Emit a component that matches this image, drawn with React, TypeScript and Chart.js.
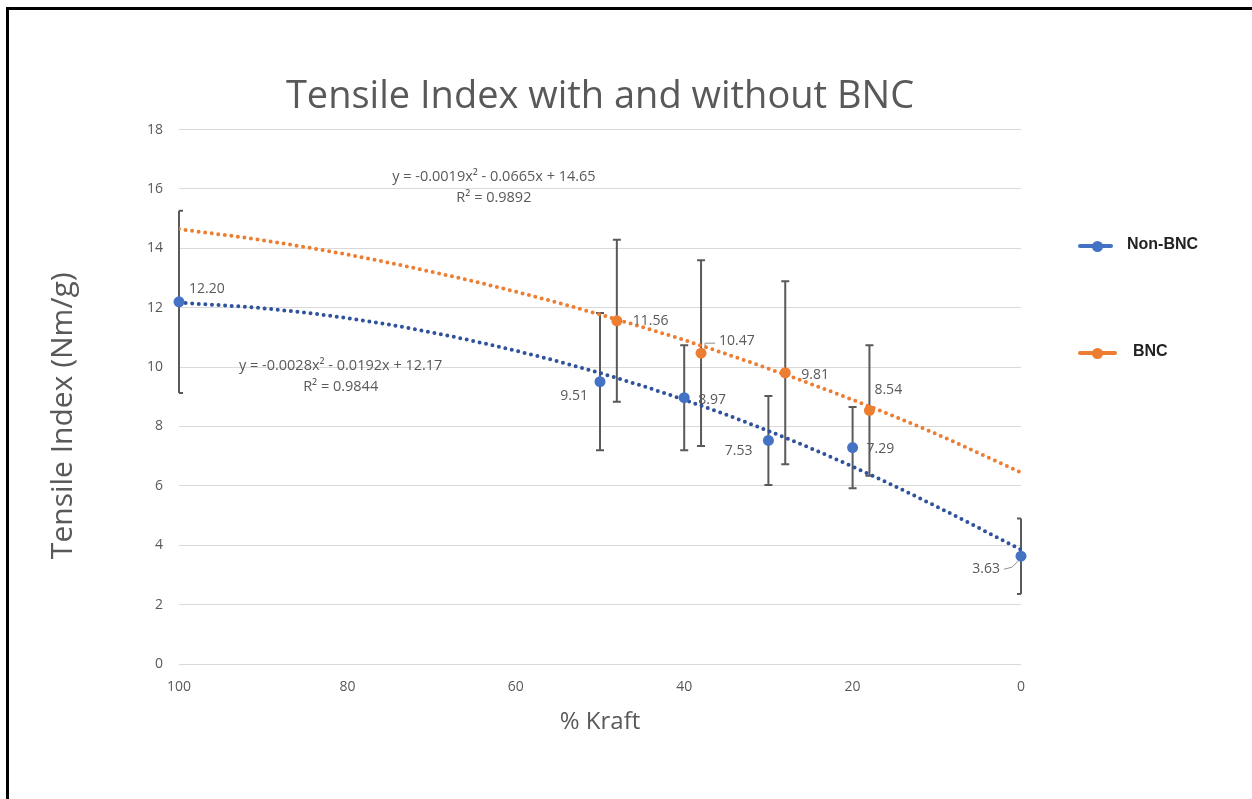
import React, { useEffect, useRef } from "react";
import { Chart, registerables } from "chart.js";

Chart.register(...registerables);

// ---- data ----
const kraftNonBNC = [100, 50, 40, 30, 20, 0];
const tensileNonBNC = [12.2, 9.51, 8.97, 7.53, 7.29, 3.63];
const errNonBNC = [3.07, 2.31, 1.77, 1.5, 1.37, 1.27];

const kraftBNC = [48, 38, 28, 18];
const tensileBNC = [11.56, 10.47, 9.81, 8.54];
const errBNC = [2.73, 3.13, 3.08, 2.2];

// polynomial trend lines
const trendKraft = [100, 90, 80, 70, 60, 50, 40, 30, 20, 10, 0];
const trendNonBNC = [12.17, 11.98, 11.65, 11.17, 10.55, 9.8, 8.9, 7.85, 6.65, 5.3, 3.85];
const trendBNC = [14.65, 14.27, 13.79, 13.21, 12.54, 11.77, 10.91, 9.95, 8.9, 7.74, 6.45];

const eqNonBNC = ["y = -0.0028x\u00B2 - 0.0192x + 12.17", "R\u00B2 = 0.9844"];
const eqBNC = ["y = -0.0019x\u00B2 - 0.0665x + 14.65", "R\u00B2 = 0.9892"];

const titleText = "Tensile Index with and without BNC";
const xTitle = "% Kraft";
const yTitle = "Tensile Index (Nm/g)";
const seriesNames = ["Non-BNC", "BNC"];

// ---- styles ----
const BLUE = "#4472C4";
const BLUE_TREND = "#2F529C";
const ORANGE = "#ED7D31";
const GREY_TEXT = "#595959";
const FONT = "'Open Sans', sans-serif";

// label placement (pixel offsets relative to the marker)
const labelLayoutNonBNC = [
  { dx: 10, dy: -13, align: "left" },
  { dx: -12, dy: 14, align: "right" },
  { dx: 14, dy: 2, align: "left" },
  { dx: -16, dy: 11, align: "right" },
  { dx: 14, dy: 1, align: "left" },
  { dx: -21, dy: 13, align: "right", leader: "right" },
];
const labelLayoutBNC = [
  { dx: 16, dy: 0, align: "left" },
  { dx: 18, dy: -12, align: "left", leader: "up" },
  { dx: 16, dy: 2, align: "left" },
  { dx: 5, dy: -20, align: "left" },
];

const errorBarPlugin = {
  id: "errorBars",
  beforeDatasetsDraw(chart: any) {
    const { ctx, scales, chartArea } = chart;
    const xs = scales.x;
    const ys = scales.y;
    const draw = (xv: number[], yv: number[], ev: number[]) => {
      for (let i = 0; i < xv.length; i++) {
        const px = xs.getPixelForValue(xv[i]);
        const top = ys.getPixelForValue(yv[i] + ev[i]);
        const bot = ys.getPixelForValue(yv[i] - ev[i]);
        const l = Math.max(px - 4, chartArea.left);
        const r = Math.min(px + 4, chartArea.right);
        ctx.beginPath();
        ctx.moveTo(px, top);
        ctx.lineTo(px, bot);
        ctx.moveTo(l, top);
        ctx.lineTo(r, top);
        ctx.moveTo(l, bot);
        ctx.lineTo(r, bot);
        ctx.stroke();
      }
    };
    ctx.save();
    ctx.strokeStyle = "#5A5A5A";
    ctx.lineWidth = 2;
    draw(kraftNonBNC, tensileNonBNC, errNonBNC);
    draw(kraftBNC, tensileBNC, errBNC);
    ctx.restore();
  },
};

const labelPlugin = {
  id: "pointLabels",
  afterDatasetsDraw(chart: any) {
    const { ctx, scales, chartArea } = chart;
    const xs = scales.x;
    const ys = scales.y;
    ctx.save();
    ctx.font = `14px ${FONT}`;
    ctx.fillStyle = GREY_TEXT;
    ctx.textBaseline = "middle";
    const draw = (xv: number[], yv: number[], layout: any[]) => {
      for (let i = 0; i < xv.length; i++) {
        const px = xs.getPixelForValue(xv[i]);
        const py = ys.getPixelForValue(yv[i]);
        const L = layout[i];
        const tx = px + L.dx;
        const ty = py + L.dy;
        ctx.textAlign = L.align;
        ctx.fillText(yv[i].toFixed(2), tx, ty);
        if (L.leader) {
          ctx.beginPath();
          ctx.strokeStyle = "#8C8C8C";
          ctx.lineWidth = 1;
          if (L.leader === "right") {
            ctx.moveTo(tx + 4, ty);
            ctx.lineTo(tx + 12, ty - 2);
            ctx.lineTo(px - 3, py + 5);
          } else {
            ctx.moveTo(px + 4, py - 5);
            ctx.lineTo(px + 4, ty + 2);
            ctx.lineTo(tx - 4, ty + 2);
          }
          ctx.stroke();
        }
      }
    };
    draw(kraftNonBNC, tensileNonBNC, labelLayoutNonBNC);
    draw(kraftBNC, tensileBNC, labelLayoutBNC);

    // trendline equations, anchored in data coordinates
    ctx.font = `14.5px ${FONT}`;
    ctx.textAlign = "center";
    const eq = (lines: string[], xv: number, yv: number) => {
      const px = xs.getPixelForValue(xv);
      const py = ys.getPixelForValue(yv);
      ctx.fillText(lines[0], px, py);
      ctx.fillText(lines[1], px, py + 21);
    };
    eq(eqBNC, 62.6, 16.41);
    eq(eqNonBNC, 80.8, 10.04);

    // y axis title
    ctx.save();
    ctx.translate(63, (chartArea.top + chartArea.bottom) / 2 + 19);
    ctx.rotate(-Math.PI / 2);
    ctx.font = `30px ${FONT}`;
    ctx.fillStyle = GREY_TEXT;
    ctx.textAlign = "center";
    ctx.textBaseline = "middle";
    ctx.fillText(yTitle, 0, 0);
    ctx.restore();
    ctx.restore();
  },
};

function ChartView() {
  const ref = useRef<HTMLCanvasElement | null>(null);
  useEffect(() => {
    if (!ref.current) return;
    Chart.defaults.font.family = FONT;
    const chart = new Chart(ref.current, {
      type: "scatter",
      data: {
        datasets: [
          {
            label: seriesNames[0],
            data: kraftNonBNC.map((x, i) => ({ x, y: tensileNonBNC[i] })),
            backgroundColor: BLUE,
            borderColor: BLUE,
            pointRadius: 5.5,
            pointBorderWidth: 0,
            showLine: false,
            clip: false,
            order: 1,
          } as any,
          {
            label: seriesNames[1],
            data: kraftBNC.map((x, i) => ({ x, y: tensileBNC[i] })),
            backgroundColor: ORANGE,
            borderColor: ORANGE,
            pointRadius: 5.5,
            pointBorderWidth: 0,
            showLine: false,
            clip: false,
            order: 1,
          } as any,
          {
            label: "trend Non-BNC",
            data: trendKraft.map((x, i) => ({ x, y: trendNonBNC[i] })),
            showLine: true,
            borderColor: BLUE_TREND,
            borderWidth: 4,
            borderDash: [0, 6.6],
            borderCapStyle: "round",
            pointRadius: 0,
            cubicInterpolationMode: "monotone",
            order: 3,
          } as any,
          {
            label: "trend BNC",
            data: trendKraft.map((x, i) => ({ x, y: trendBNC[i] })),
            showLine: true,
            borderColor: ORANGE,
            borderWidth: 4,
            borderDash: [0, 6.6],
            borderCapStyle: "round",
            pointRadius: 0,
            cubicInterpolationMode: "monotone",
            order: 3,
          } as any,
        ],
      },
      options: {
        animation: false,
        responsive: false,
        maintainAspectRatio: false,
        layout: { padding: { left: 46, right: 231, top: 0, bottom: 62 } },
        plugins: {
          legend: { display: false },
          tooltip: { enabled: false },
          title: {
            display: true,
            text: titleText,
            fullSize: false,
            color: GREY_TEXT,
            font: { size: 38, weight: "normal", family: FONT },
            padding: { top: 74, bottom: 10 },
          },
        },
        scales: {
          x: {
            type: "linear",
            min: 0,
            max: 100,
            reverse: true,
            ticks: { stepSize: 20, color: GREY_TEXT, font: { size: 14 }, padding: 15 },
            grid: { display: false, drawTicks: false },
            border: { display: false },
            title: {
              display: true,
              text: xTitle,
              color: GREY_TEXT,
              font: { size: 24 },
              padding: 0,
            },
            afterFit: (s: any) => {
              s.height = 73;
            },
          },
          y: {
            type: "linear",
            min: 0,
            max: 18,
            ticks: { stepSize: 2, color: GREY_TEXT, font: { size: 14 }, padding: 16 },
            grid: { color: "#D9D9D9", lineWidth: 1, drawTicks: false },
            border: { display: false },
            title: { display: false },
            afterFit: (s: any) => {
              s.width = 133;
            },
          },
        },
      } as any,
      plugins: [errorBarPlugin, labelPlugin],
    });
    return () => chart.destroy();
  }, []);
  return <canvas ref={ref} width={1252} height={799} style={{ position: "absolute", left: 0, top: 0 }} />;
}

function LegendItem({ color, name, top, lineRight, textLeft }: any) {
  return (
    <div style={{ position: "absolute", left: 0, top: 0 }}>
      <div
        style={{
          position: "absolute",
          left: 1078,
          top: top - 2,
          width: lineRight - 1078,
          height: 4,
          background: color,
          borderRadius: 2,
        }}
      />
      <div
        style={{
          position: "absolute",
          left: 1097 - 5.5,
          top: top - 5.5,
          width: 11,
          height: 11,
          borderRadius: "50%",
          background: color,
        }}
      />
      <div
        style={{
          position: "absolute",
          left: textLeft,
          top: top - 11,
          height: 22,
          lineHeight: "22px",
          font: "bold 16px 'Liberation Sans', Arial, sans-serif",
          color: "#222222",
          whiteSpace: "nowrap",
        }}
      >
        {name}
      </div>
    </div>
  );
}

export default function App() {
  return (
    <div
      style={{
        position: "absolute",
        left: 0,
        top: 0,
        width: 1252,
        height: 799,
        overflow: "hidden",
        background: "#ffffff",
      }}
    >
      <div
        style={{
          position: "absolute",
          left: 6,
          top: 7,
          right: 0,
          bottom: 0,
          borderTop: "3px solid #000",
          borderLeft: "3px solid #000",
        }}
      />
      <ChartView />
      <LegendItem color={BLUE} name={seriesNames[0]} top={246} lineRight={1113} textLeft={1127} />
      <LegendItem color={ORANGE} name={seriesNames[1]} top={353} lineRight={1117} textLeft={1133} />
    </div>
  );
}
